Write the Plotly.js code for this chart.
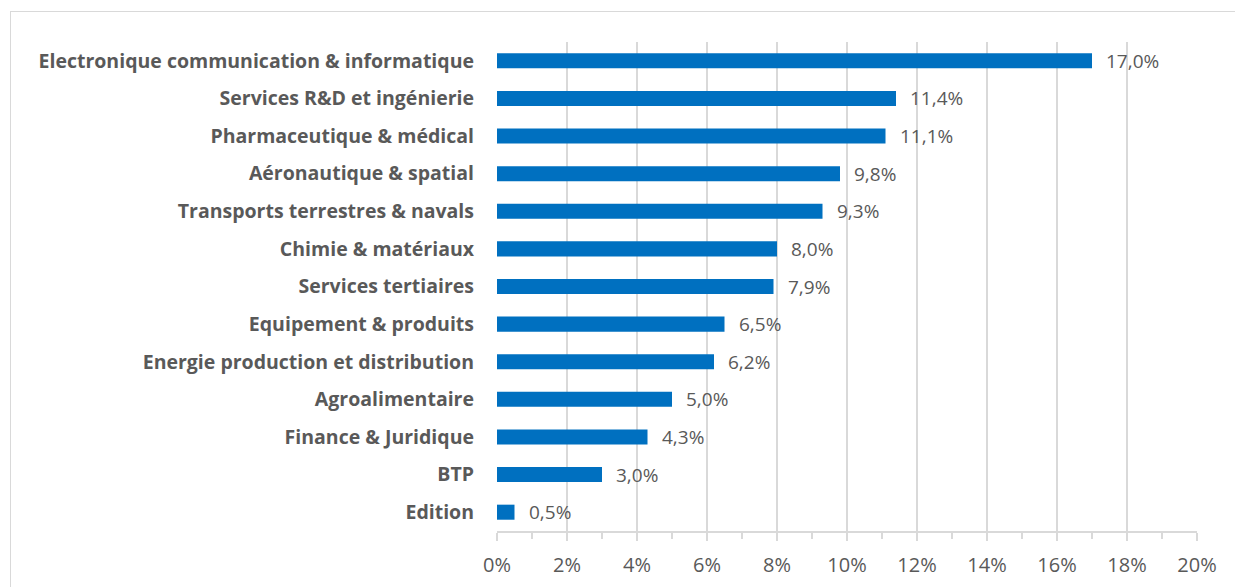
<!DOCTYPE html>
<html>
<head>
<meta charset="utf-8">
<script src="https://cdn.plot.ly/plotly-3.0.1.min.js"></script>
<style>
  html, body { margin:0; padding:0; background:#fff; }
  #frame { position:absolute; left:10px; top:11px; width:1240px; height:600px; border:1.5px solid #d9d9d9; box-sizing:border-box; }
  #chart { position:absolute; left:0; top:0; width:1235px; height:587px; }
</style>
</head>
<body>
<div id="frame"></div>
<div id="chart"></div>
<script>
const categories = [
  "Electronique communication & informatique",
  "Services R&D et ingénierie",
  "Pharmaceutique & médical",
  "Aéronautique & spatial",
  "Transports terrestres & navals",
  "Chimie & matériaux",
  "Services tertiaires",
  "Equipement & produits",
  "Energie production et distribution",
  "Agroalimentaire",
  "Finance & Juridique",
  "BTP",
  "Edition"
];
const values = [17.0, 11.4, 11.1, 9.8, 9.3, 8.0, 7.9, 6.5, 6.2, 5.0, 4.3, 3.0, 0.5];
const tickVals = [0, 2, 4, 6, 8, 10, 12, 14, 16, 18, 20];
const tickText = tickVals.map(v => v + "%");
const labels = values.map(v => v.toFixed(1).replace('.', ',') + "%");

const grey = "#595959";
const trace = {
  type: "bar",
  orientation: "h",
  y: categories,
  x: values,
  marker: { color: "#0070C0" },
  hoverinfo: "none"
};

const annotations = values.map((v, i) => ({
  x: v, y: categories[i], xref: "x", yref: "y",
  text: labels[i], showarrow: false, xanchor: "left", xshift: 12,
  font: { family: "Open Sans, sans-serif", size: 19, color: grey }
}));

const layout = {
  width: 1235, height: 587,
  margin: { l: 497, r: 37.5, t: 42, b: 56 },
  paper_bgcolor: "rgba(0,0,0,0)",
  plot_bgcolor: "rgba(0,0,0,0)",
  bargap: 0.6,
  showlegend: false,
  xaxis: {
    range: [0, 20],
    tickvals: tickVals,
    ticktext: tickText,
    showgrid: true,
    gridcolor: "#d9d9d9",
    gridwidth: 1.5,
    zeroline: false,
    showline: true,
    linecolor: "#d9d9d9",
    linewidth: 1.5,
    ticks: "outside",
    ticklen: 8,
    tickwidth: 1.5,
    tickcolor: "#d9d9d9",
    ticklabelstandoff: 7,
    minor: { dtick: 1, ticks: "outside", ticklen: 6, tickwidth: 1.5, tickcolor: "#d9d9d9", showgrid: false },
    tickfont: { family: "Open Sans, sans-serif", size: 20, color: grey },
    fixedrange: true
  },
  yaxis: {
    autorange: "reversed",
    showgrid: false,
    zeroline: false,
    showline: false,
    ticks: "",
    ticklabelstandoff: 22,
    tickfont: { family: "Open Sans, sans-serif", size: 19.5, color: grey, weight: "bold" },
    fixedrange: true
  },
  annotations: annotations
};

Plotly.newPlot("chart", [trace], layout, { displayModeBar: false, staticPlot: true });
</script>
</body>
</html>
